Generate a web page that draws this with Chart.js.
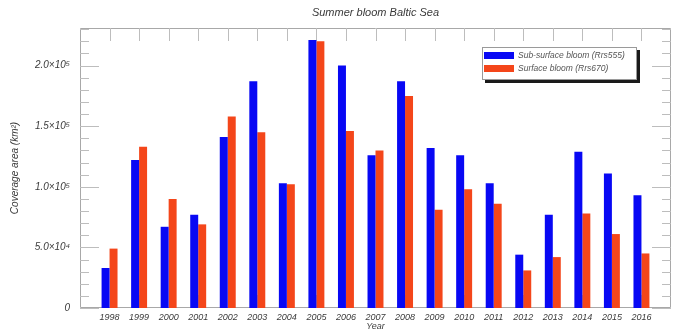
<!DOCTYPE html>
<html>
<head>
<meta charset="utf-8">
<script src="https://cdn.jsdelivr.net/npm/chart.js@4/dist/chart.umd.min.js"></script>
<style>
  html, body { margin: 0; padding: 0; background: #fff; }
  canvas { display: block; }
</style>
</head>
<body>
<canvas id="bloom-chart" width="673" height="333"></canvas>
<script>
// Summer bloom coverage in the Baltic Sea, km²
const years = [1998, 1999, 2000, 2001, 2002, 2003, 2004, 2005, 2006, 2007,
               2008, 2009, 2010, 2011, 2012, 2013, 2014, 2015, 2016];
const subSurface = [33000, 122000, 67000, 77000, 141000, 187000, 103000, 221000, 200000, 126000,
                    187000, 132000, 126000, 103000, 44000, 77000, 129000, 111000, 93000];
const surface = [49000, 133000, 90000, 69000, 158000, 145000, 102000, 220000, 146000, 130000,
                 175000, 81000, 98000, 86000, 31000, 42000, 78000, 61000, 45000];
const seriesNames = ['Sub-surface bloom (Rrs555)', 'Surface bloom (Rrs670)'];
const seriesColors = ['#0808f4', '#f4461a'];

const yMajor = [0, 50000, 100000, 150000, 200000];
const yMinorStep = 10000;
const xRange = [1997, 2017];
const yRange = [0, 231000];

const FONT = '"Liberation Sans", Arial, sans-serif';
const AXIS_GREY = '#a8a8a8';
const TEXT = '#3a3a3a';

const SUP = { '0': '⁰', '1': '¹', '2': '²', '3': '³', '4': '⁴', '5': '⁵', '6': '⁶', '7': '⁷', '8': '⁸', '9': '⁹' };

function sciLabel(v) {
  if (v === 0) return '0';
  const exp = Math.floor(Math.log10(v));
  const mant = v / Math.pow(10, exp);
  return mant.toFixed(1) + '×10' + String(exp).split('').map(c => SUP[c]).join('');
}

// IDL-style frame: box on all four sides, inward ticks
const framePlugin = {
  id: 'frame',
  beforeDatasetsDraw(chart) {
    const { ctx, chartArea: a, scales: { x, y } } = chart;
    ctx.save();
    ctx.strokeStyle = AXIS_GREY;
    ctx.lineWidth = 1;
    ctx.beginPath();
    ctx.rect(a.left + 0.5, a.top + 0.5, a.right - a.left - 1, a.bottom - a.top - 1);
    ctx.stroke();

    ctx.strokeStyle = '#bdbdbd';
    ctx.beginPath();
    for (let v = 0; v <= yRange[1]; v += yMinorStep) {
      const py = Math.round(y.getPixelForValue(v)) + 0.5;
      const len = yMajor.includes(v) ? 19 : 9;
      ctx.moveTo(a.left, py); ctx.lineTo(a.left + len, py);
      ctx.moveTo(a.right, py); ctx.lineTo(a.right - len, py);
    }
    years.forEach(yr => {
      const px = Math.round(x.getPixelForValue(yr)) + 0.5;
      ctx.moveTo(px, a.top); ctx.lineTo(px, a.top + 13);
      ctx.moveTo(px, a.bottom); ctx.lineTo(px, a.bottom - 13);
    });
    ctx.stroke();
    ctx.restore();
  },
  afterDraw(chart) {
    const { ctx, chartArea: a } = chart;
    ctx.save();
    ctx.fillStyle = TEXT;
    ctx.textAlign = 'center';
    ctx.textBaseline = 'middle';

    ctx.font = 'italic 11px ' + FONT;
    ctx.fillText('Summer bloom Baltic Sea', (a.left + a.right) / 2, 13);

    ctx.font = 'italic 9px ' + FONT;
    ctx.fillText('Year', (a.left + a.right) / 2, 326);

    ctx.save();
    ctx.translate(15, (a.top + a.bottom) / 2);
    ctx.rotate(-Math.PI / 2);
    ctx.font = 'italic 10px ' + FONT;
    ctx.fillText('Coverage area (km²)', 0, 0);
    ctx.restore();

    // legend box with drop shadow
    const bx = 482, by = 47, bw = 155, bh = 33;
    ctx.fillStyle = '#1a1a1a';
    ctx.fillRect(bx + 3, by + 3, bw, bh);
    ctx.fillStyle = '#fff';
    ctx.fillRect(bx, by, bw, bh);
    ctx.strokeStyle = '#9a9a9a';
    ctx.strokeRect(bx + 0.5, by + 0.5, bw - 1, bh - 1);

    ctx.font = 'italic 8.5px ' + FONT;
    ctx.textAlign = 'left';
    seriesNames.forEach((name, i) => {
      const ry = by + 5 + i * 13;
      ctx.fillStyle = seriesColors[i];
      ctx.fillRect(bx + 2, ry, 30, 7);
      ctx.fillStyle = '#555';
      ctx.fillText(name, bx + 36, ry + 4);
    });
    ctx.restore();
  },
};

new Chart(document.getElementById('bloom-chart'), {
  type: 'bar',
  data: {
    datasets: [
      {
        label: seriesNames[0],
        data: years.map((yr, i) => ({ x: yr, y: subSurface[i] })),
        backgroundColor: seriesColors[0],
      },
      {
        label: seriesNames[1],
        data: years.map((yr, i) => ({ x: yr, y: surface[i] })),
        backgroundColor: seriesColors[1],
      },
    ],
  },
  options: {
    responsive: false,
    animation: false,
    layout: { padding: { top: 28, right: 2, left: 0, bottom: 0 } },
    datasets: { bar: { categoryPercentage: 0.54, barPercentage: 1.0 } },
    plugins: {
      legend: { display: false },
      title: { display: false },
      tooltip: { enabled: false },
    },
    scales: {
      x: {
        type: 'linear',
        offset: false,
        min: xRange[0],
        max: xRange[1],
        grid: { display: false, drawTicks: false },
        border: { display: false },
        afterFit: s => { s.height = 25; },
        afterBuildTicks: s => { s.ticks = years.map(v => ({ value: v })); },
        ticks: {
          autoSkip: false,
          maxRotation: 0,
          padding: 4,
          color: TEXT,
          font: { family: FONT, size: 9, style: 'italic' },
          callback: v => String(v),
        },
      },
      y: {
        min: yRange[0],
        max: yRange[1],
        grid: { display: false, drawTicks: false },
        border: { display: false },
        afterFit: s => { s.width = 80; },
        afterBuildTicks: s => { s.ticks = yMajor.map(v => ({ value: v })); },
        ticks: {
          padding: 10,
          color: TEXT,
          font: { family: FONT, size: 10, style: 'italic' },
          callback: v => sciLabel(v),
        },
      },
    },
  },
  plugins: [framePlugin],
});
</script>
</body>
</html>
